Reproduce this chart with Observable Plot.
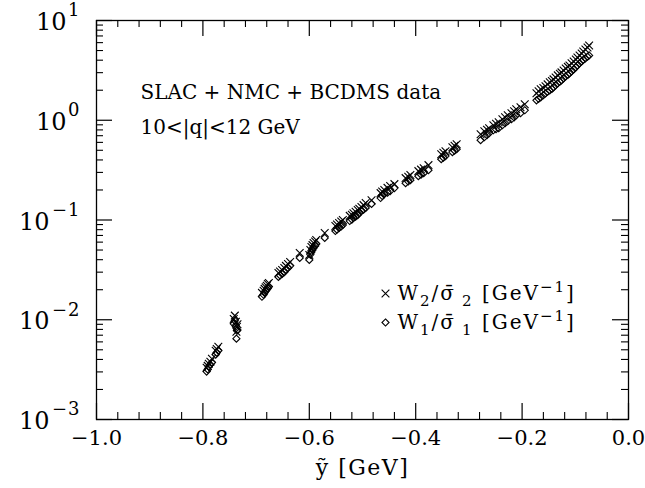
<!DOCTYPE html>
<html>
<head>
<meta charset="utf-8">
<script src="https://cdn.jsdelivr.net/npm/d3@7"></script>
<script src="https://cdn.jsdelivr.net/npm/@observablehq/plot@0.6"></script>
<style>
  body { margin: 0; background: #fff; }
</style>
</head>
<body>
<div id="chart"></div>
<script>
// ỹ values [GeV]
const yTilde = [
  -0.793, -0.789, -0.783, -0.776, -0.771, -0.791, -0.786, -0.774,
  -0.740, -0.738, -0.736, -0.737, -0.742, -0.735,
  -0.689, -0.684, -0.680, -0.676, -0.686, -0.682, -0.678,
  -0.658, -0.651, -0.644, -0.636, -0.618, -0.655, -0.647, -0.640,
  -0.600, -0.596, -0.592, -0.587, -0.571, -0.598, -0.594, -0.589,
  -0.551, -0.544, -0.537, -0.548, -0.540,
  -0.524, -0.517, -0.509, -0.502, -0.494, -0.483, -0.520, -0.513, -0.506, -0.498,
  -0.466, -0.459, -0.448, -0.440, -0.463, -0.453,
  -0.419, -0.410, -0.395, -0.385, -0.376, -0.414, -0.390,
  -0.352, -0.344, -0.331, -0.323, -0.348, -0.327,
  -0.278, -0.271, -0.262, -0.254, -0.244, -0.237, -0.227, -0.220, -0.211, -0.203, -0.195,
  -0.266, -0.249, -0.232, -0.215,
  -0.173, -0.165, -0.156, -0.148, -0.141, -0.133, -0.126, -0.118, -0.111, -0.103, -0.096, -0.088, -0.081, -0.074,
  -0.169, -0.160, -0.152, -0.144, -0.137, -0.129, -0.122, -0.114, -0.107, -0.099, -0.092, -0.085, -0.077
];
// W2 / sigma2 [GeV^-1]  (crosses)
const w2 = [
  0.00331, 0.00363, 0.00407, 0.00490, 0.00537, 0.00345, 0.00380, 0.00510,
  0.0110, 0.00955, 0.00850, 0.00759, 0.0102, 0.0090,
  0.0186, 0.0204, 0.0219, 0.0234, 0.0195, 0.0212, 0.0228,
  0.0295, 0.0316, 0.0347, 0.0380, 0.0468, 0.0305, 0.0330, 0.0362,
  0.0447, 0.0537, 0.0589, 0.0631, 0.0741, 0.0500, 0.0560, 0.0610,
  0.0871, 0.0933, 0.100, 0.0900, 0.0965,
  0.110, 0.117, 0.126, 0.135, 0.148, 0.158, 0.113, 0.121, 0.130, 0.141,
  0.186, 0.200, 0.219, 0.229, 0.193, 0.210,
  0.263, 0.282, 0.309, 0.331, 0.355, 0.272, 0.320,
  0.457, 0.490, 0.537, 0.575, 0.473, 0.556,
  0.724, 0.776, 0.832, 0.891, 0.955, 1.023, 1.122, 1.175, 1.288, 1.349, 1.445,
  0.805, 0.923, 1.070, 1.230,
  1.862, 2.042, 2.188, 2.399, 2.570, 2.818, 3.020, 3.311, 3.548, 3.890, 4.266, 4.677, 5.129, 5.623,
  1.950, 2.110, 2.290, 2.480, 2.690, 2.920, 3.160, 3.430, 3.720, 4.070, 4.470, 4.900, 5.370
];
// W1 / sigma1 [GeV^-1]  (diamonds)
const w1 = [
  0.00302, 0.00339, 0.00372, 0.00447, 0.00490, 0.00318, 0.00355, 0.00468,
  0.00977, 0.00850, 0.00776, 0.00646, 0.0091, 0.0079,
  0.0170, 0.0186, 0.0200, 0.0214, 0.0178, 0.0194, 0.0206,
  0.0269, 0.0288, 0.0316, 0.0347, 0.0417, 0.0278, 0.0300, 0.0330,
  0.0398, 0.0479, 0.0525, 0.0575, 0.0661, 0.0450, 0.0500, 0.0550,
  0.0776, 0.0832, 0.0891, 0.0800, 0.0860,
  0.0977, 0.105, 0.112, 0.123, 0.132, 0.145, 0.101, 0.108, 0.117, 0.127,
  0.166, 0.182, 0.195, 0.209, 0.174, 0.188,
  0.234, 0.251, 0.275, 0.295, 0.316, 0.243, 0.285,
  0.407, 0.437, 0.479, 0.513, 0.422, 0.496,
  0.631, 0.676, 0.741, 0.794, 0.832, 0.891, 0.977, 1.023, 1.122, 1.175, 1.259,
  0.710, 0.812, 0.935, 1.070,
  1.585, 1.698, 1.862, 1.995, 2.138, 2.344, 2.512, 2.754, 2.951, 3.236, 3.548, 3.890, 4.169, 4.467,
  1.640, 1.780, 1.930, 2.060, 2.240, 2.430, 2.630, 2.850, 3.090, 3.390, 3.720, 4.030, 4.330
];

const xMajorTicks = [-1.0, -0.8, -0.6, -0.4, -0.2, 0.0];
const xTickLabels = ["\u22121.0", "\u22120.8", "\u22120.6", "\u22120.4", "\u22120.2", "0.0"];
const xMinorTicks = [-0.96, -0.92, -0.88, -0.84, -0.76, -0.72, -0.68, -0.64, -0.56, -0.52, -0.48, -0.44,
                     -0.36, -0.32, -0.28, -0.24, -0.16, -0.12, -0.08, -0.04];
const yMajorTicks = [1e-3, 1e-2, 1e-1, 1, 10];
const yTickBase = ["10", "10", "10", "10", "10"];
const yTickExponents = ["\u22123", "\u22122", "\u22121", "0", "1"];
const yMinorTicks = d3.scaleLog().domain([1e-3, 10]).ticks().filter(v => !yMajorTicks.some(m => Math.abs(m - v) / m < 1e-9));

const annotationLines = ["SLAC + NMC + BCDMS data", "10<|q|<12 GeV"];
const legendLabels = ["W2/\u03C3\u03042 [GeV\u22121]", "W1/\u03C3\u03041 [GeV\u22121]"];
// rich-text pieces of the legend labels: [text, role]
const legendParts = [
  [["W", ""], ["2", "sub"], ["/\u03C3\u0304\u2009", ""], ["2", "sub"], [" [GeV", ""], ["\u22121", "sup"], ["]", ""]],
  [["W", ""], ["1", "sub"], ["/\u03C3\u0304\u2009", ""], ["1", "sub"], [" [GeV", ""], ["\u22121", "sup"], ["]", ""]]
];
const legendSymbols = ["times", "diamond2"];
const xAxisLabel = "\u1EF9 [GeV]";

const points = yTilde.map((x, i) => ({x, w2: w2[i], w1: w1[i]}));

const W = 645, H = 488;
const mL = 96, mR = 17, mT = 20, mB = 69;
const innerW = W - mL - mR, innerH = H - mT - mB;
const majorLen = 16, minorLen = 7;
const font = "DejaVu Serif";

const marks = [
  // data
  Plot.dot(points, {x: "x", y: "w1", symbol: "diamond2", r: 3.2, stroke: "black", strokeWidth: 1.1, fill: "none"}),
  Plot.dot(points, {x: "x", y: "w2", symbol: "times", r: 3.6, stroke: "black", strokeWidth: 1.1}),
  // frame
  Plot.frame({stroke: "black", strokeWidth: 1.3}),
  // x ticks bottom & top
  Plot.tickX(xMajorTicks, {x: d => d, insetTop: innerH - majorLen, stroke: "black", strokeWidth: 1.2}),
  Plot.tickX(xMajorTicks, {x: d => d, insetBottom: innerH - majorLen, stroke: "black", strokeWidth: 1.2}),
  Plot.tickX(xMinorTicks, {x: d => d, insetTop: innerH - minorLen, stroke: "black", strokeWidth: 1.1}),
  Plot.tickX(xMinorTicks, {x: d => d, insetBottom: innerH - minorLen, stroke: "black", strokeWidth: 1.1}),
  // y ticks left & right
  Plot.tickY(yMajorTicks, {y: d => d, insetRight: innerW - majorLen, stroke: "black", strokeWidth: 1.2}),
  Plot.tickY(yMajorTicks, {y: d => d, insetLeft: innerW - majorLen, stroke: "black", strokeWidth: 1.2}),
  Plot.tickY(yMinorTicks, {y: d => d, insetRight: innerW - minorLen, stroke: "black", strokeWidth: 1.1}),
  Plot.tickY(yMinorTicks, {y: d => d, insetLeft: innerW - minorLen, stroke: "black", strokeWidth: 1.1}),
  // x tick labels
  Plot.text(xMajorTicks, {x: d => d, text: (d, i) => xTickLabels[i], frameAnchor: "bottom", lineAnchor: "top",
    dy: 11, fontSize: 21, fill: "black", textAnchor: "middle"}),
  // x axis label
  Plot.text([xAxisLabel], {frameAnchor: "bottom", text: d => d, lineAnchor: "top", dy: 40, fontSize: 22, fill: "black"}),
  // y tick labels: exponent
  Plot.text(yMajorTicks, {y: d => d, text: (d, i) => yTickExponents[i], frameAnchor: "left", textAnchor: "end",
    lineAnchor: "middle", dx: -16, dy: -10, fontSize: 18, fill: "black"}),
  // y tick labels: base (positive exponents)
  Plot.text(yMajorTicks, {y: d => d, text: (d, i) => yTickBase[i], filter: (d, i) => !yTickExponents[i].startsWith("\u2212"),
    frameAnchor: "left", textAnchor: "end", lineAnchor: "middle", dx: -30, dy: 2, fontSize: 24, fill: "black"}),
  // y tick labels: base (negative exponents)
  Plot.text(yMajorTicks, {y: d => d, text: (d, i) => yTickBase[i], filter: (d, i) => yTickExponents[i].startsWith("\u2212"),
    frameAnchor: "left", textAnchor: "end", lineAnchor: "middle", dx: -47, dy: 2, fontSize: 24, fill: "black"})
];

annotationLines.forEach((t, i) => {
  marks.push(Plot.text([t], {text: d => d, frameAnchor: "top-left", textAnchor: "start", lineAnchor: "middle",
    dx: 44, dy: 72 + i * 35, fontSize: 20, fill: "black"}));
});

legendLabels.forEach((t, i) => {
  marks.push(Plot.dot([t], {frameAnchor: "top-left", dx: 289, dy: 273 + i * 29, symbol: legendSymbols[i],
    r: legendSymbols[i] === "times" ? 3.6 : 3.2, stroke: "black", strokeWidth: 1.1, fill: "none"}));
  marks.push(Plot.text([t], {text: d => d, frameAnchor: "top-left", textAnchor: "start", lineAnchor: "middle",
    dx: 301, dy: 273 + i * 29, fontSize: 20, fill: "black"}));
});

const chart = Plot.plot({
  width: W, height: H,
  marginLeft: mL, marginRight: mR, marginTop: mT, marginBottom: mB,
  x: {domain: [-1, 0], axis: null},
  y: {type: "log", domain: [1e-3, 10], axis: null},
  style: {fontFamily: font, background: "white", color: "black"},
  marks
});

// typographic touches on the rendered text elements
const SVGNS = "http://www.w3.org/2000/svg";
chart.querySelectorAll("text").forEach(el => {
  const s = el.textContent;
  if (s === xAxisLabel) el.style.letterSpacing = "1.5px";
  else if (yTickExponents.includes(s)) el.style.letterSpacing = "1px";
  else {
    const li = legendLabels.indexOf(s);
    if (li >= 0) {
      el.style.letterSpacing = "2px";
      el.textContent = "";
      let shift = 0;
      for (const [txt, role] of legendParts[li]) {
        const ts = document.createElementNS(SVGNS, "tspan");
        const target = role === "sub" ? 6 : role === "sup" ? -8 : 0;
        ts.setAttribute("dy", target - shift);
        shift = target;
        if (role) ts.setAttribute("font-size", 15);
        ts.textContent = txt;
        el.appendChild(ts);
      }
    }
  }
});

document.getElementById("chart").appendChild(chart);
</script>
</body>
</html>
